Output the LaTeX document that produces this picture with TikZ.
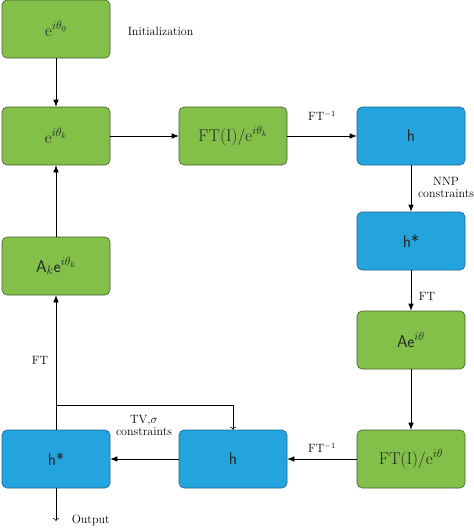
\documentclass[tikz,border=0pt]{standalone}
\usepackage{xcolor}
\usepackage{tikz}
\usetikzlibrary{arrows, arrows.meta}

\definecolor{boxgreen}{RGB}{130,192,74}
\definecolor{boxgreenline}{RGB}{70,95,50}
\definecolor{boxblue}{RGB}{36,164,222}
\definecolor{boxblueline}{RGB}{30,100,140}

\begin{document}
\begin{tikzpicture}[
		x=1pt, y=-1pt,
		line width=0.3mm,
		every node/.style={font=\fontsize{12}{14}\selectfont},
		box/.style={rounded corners=5pt, minimum width=108pt, minimum height=58pt, line width=0.6pt, text=black!85, font=\fontsize{17}{19}\selectfont},
		greenbox/.style={box, fill=boxgreen, draw=boxgreenline},
		bluebox/.style={box, fill=boxblue, draw=boxblueline, font=\fontsize{17}{19}\sffamily},
		flow/.style={-{Latex[length=7pt, width=5.5pt]}, line width=0.6pt},
		thin flow/.style={->, line width=0.6pt},
		desc/.style={align=center, inner sep=1pt}
		]
	\useasboundingbox (0, 0) rectangle (474, 528);

	% Left column
	\node[greenbox] (init) at (56, 29) {e$^{i\theta_0}$};
	\node[greenbox] (phase) at (56, 136) {e$^{i\theta_k}$};
	\node[greenbox] (ampk) at (56, 266) {\textsf{A$_k$e$^{i\theta_k}$}};
	\node[bluebox] (hstarout) at (56, 459) {h*};

	% Middle column
	\node[greenbox] (ftdiv) at (233, 136) {FT(I)/e$^{i\theta_k}$};
	\node[bluebox] (hlow) at (233, 459) {h};

	% Right column
	\node[bluebox] (hup) at (411, 136) {h};
	\node[bluebox] (hstar) at (411, 241) {h*};
	\node[greenbox] (amp) at (411, 340) {\textsf{Ae$^{i\theta}$}};
	\node[greenbox] (ftdivlow) at (411, 459) {FT(I)/e$^{i\theta}$};

	% Labels
	\node[anchor=west] (initlabel) at (124, 31) {Initialization};
	\node (ftinvup) at (322, 116) {FT$^{-1}$};
	\node[desc] (nnp) at (446, 187) {NNP\\[-2pt]constraints};
	\node (ftright) at (427, 296) {FT};
	\node (ftinvlow) at (322, 448) {FT$^{-1}$};
	\node[desc] (tvlabel) at (144, 425) {TV,$\sigma$\\[-2pt]constraints};
	\node (ftleft) at (40, 360) {FT};
	\node[anchor=west] (outlabel) at (68, 520) {Output};

	% Loop
	\draw[flow] (init) -- (phase);
	\draw[flow] (phase) -- (ftdiv);
	\draw[flow] (ftdiv) -- (hup);
	\draw[flow] (hup) -- (hstar);
	\draw[flow] (hstar) -- (amp);
	\draw[flow] (amp) -- (ftdivlow);
	\draw[flow] (ftdivlow) -- (hlow);
	\draw[flow] (hlow) -- (hstarout);
	\draw[flow] (hstarout) -- (ampk);
	\draw[flow] (ampk) -- (phase);

	% Branch and output
	\coordinate (split) at (56, 405);
	\coordinate (outend) at (56, 521);
	\draw[thin flow] (split) -| (hlow.north);
	\draw[thin flow] (hstarout) -- (outend);

	\end{tikzpicture}
\end{document}
